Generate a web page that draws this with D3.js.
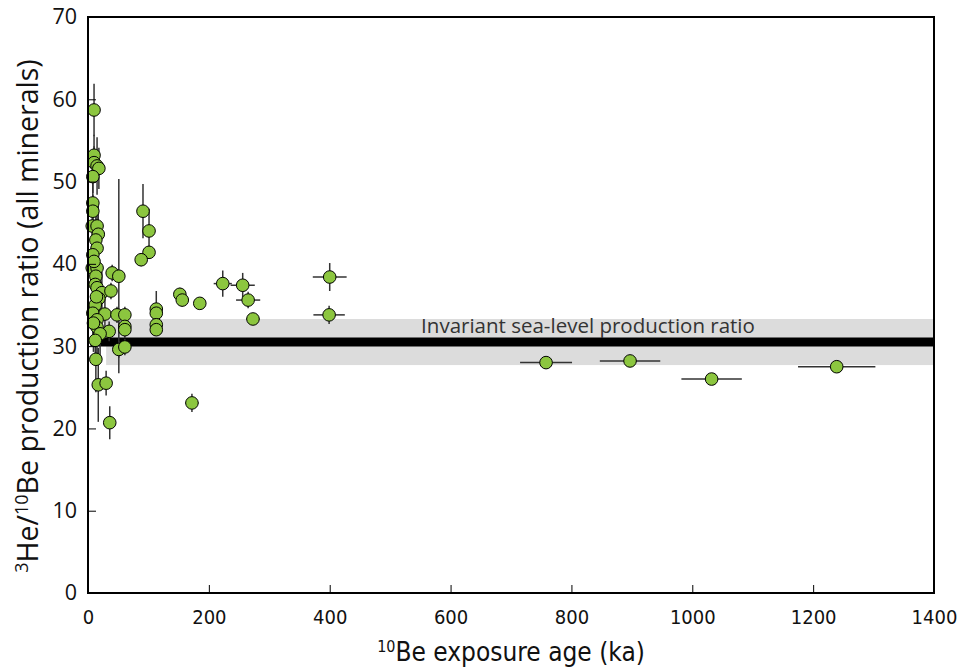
<!DOCTYPE html>
<html>
<head>
<meta charset="utf-8">
<script src="https://cdn.jsdelivr.net/npm/d3@7"></script>
<style>
  html, body { margin: 0; padding: 0; background: #fff; }
  svg { display: block; }
  text { font-family: "Open Sans", "Noto Sans", sans-serif; fill: #111; }
  .narrow { font-family: "Liberation Sans Narrow", "DejaVu Sans Condensed", "Open Sans", sans-serif; }
</style>
</head>
<body>
<svg id="chart" width="970" height="670"></svg>
<script>
// ---- data ----
const ageKa = [10,10,10,15,18,8,8,8,7,15,17,13,15,8,7,15,13,40,51,12,15,23,38,18,12,8,28,48,61,15,15,61,61,35,20,12,51,61,13,17,30,36,
  10,14,9,
  91,101,101,88,113,113,113,113,152,156,185,223,256,265,273,172,400,399,758,897,1032,1239];
const ratio = [58.7,53.2,52.3,51.9,51.6,50.6,47.4,46.4,44.6,44.6,43.6,42.9,41.9,41.1,39.5,39.5,38.5,38.9,38.5,37.5,37.1,36.5,36.7,35.8,35.0,34.0,33.9,33.8,33.8,33.2,32.3,32.4,32.0,31.8,31.5,30.7,29.6,29.9,28.4,25.3,25.5,20.7,
  40.3,36.0,32.8,
  46.4,44.0,41.4,40.5,34.5,34.0,32.6,32.0,36.3,35.6,35.2,37.6,37.4,35.6,33.3,23.1,38.4,33.8,28.0,28.2,26.0,27.5];
const ratioErr = [3.2,2.5,2.0,3.5,2.5,2.0,2.5,2.0,3.0,2.5,3.5,3.0,3.5,3.0,2.5,3.0,2.5,1.0,11.8,3.0,3.0,2.5,1.0,3.0,3.5,3.0,2.5,1.0,1.0,3.0,3.5,1.0,1.0,1.2,3.0,3.0,1.0,1.0,4.0,4.5,1.5,2.0,
  3.0,4.0,3.5,
  3.3,2.7,0.8,0.8,2.2,0.5,0.5,0.5,0.8,0.8,0.4,1.6,1.5,1.0,0.5,1.1,1.7,1.1,0.3,0.3,0.3,0.3];
const ageErr = [0,0,0,0,0,0,0,0,0,0,0,0,0,0,0,0,0,4,5,0,0,0,4,0,0,0,0,0,0,0,0,0,0,4,0,0,0,0,0,0,0,0,
  0,0,0,
  0,0,0,0,0,0,0,0,3,3,0,15,20,20,11,11,28,26,43,50,50,64];
const xTicks = [0,200,400,600,800,1000,1200,1400];
const yTicks = [0,10,20,30,40,50,60,70];
const refRatio = 30.5, refLow = 27.7, refHigh = 33.3, refStartBand = 30, refStartLine = 4;
const refLabel = "Invariant sea-level production ratio";

// ---- layout ----
const svg = d3.select("#chart");
const m = {left: 88, right: 36, top: 17, bottom: 77};
const W = 970, H = 670;
const x = d3.scaleLinear().domain([0,1400]).range([m.left, W - m.right]);
const y = d3.scaleLinear().domain([0,70]).range([H - m.bottom, m.top]);

// band and line
svg.append("rect")
  .attr("x", x(refStartBand)).attr("width", x(1400) - x(refStartBand))
  .attr("y", y(refHigh)).attr("height", y(refLow) - y(refHigh))
  .attr("fill", "#dcdcdc");
svg.append("line")
  .attr("x1", x(refStartLine)).attr("x2", x(1400))
  .attr("y1", y(refRatio)).attr("y2", y(refRatio))
  .attr("stroke", "#000").attr("stroke-width", 9);
svg.append("text")
  .attr("x", 588).attr("y", y(refRatio) - 9)
  .attr("text-anchor", "middle").attr("font-size", 20.5).style("fill", "#333")
  .text(refLabel);

// data
const pts = ageKa.map((a, i) => ({a, r: ratio[i], re: ratioErr[i], ae: ageErr[i]}));
const eb = svg.append("g").attr("stroke", "#333").attr("stroke-width", 1.5);
pts.forEach(p => {
  if (p.re > 0) eb.append("line").attr("x1", x(p.a)).attr("x2", x(p.a))
    .attr("y1", y(p.r + p.re)).attr("y2", y(p.r - p.re));
  if (p.ae > 0) eb.append("line").attr("x1", x(p.a - p.ae)).attr("x2", x(p.a + p.ae))
    .attr("y1", y(p.r)).attr("y2", y(p.r));
});
svg.append("g").selectAll("circle").data(pts).join("circle")
  .attr("cx", d => x(d.a)).attr("cy", d => y(d.r)).attr("r", 6.3)
  .attr("fill", "#8cc63f").attr("stroke", "#000").attr("stroke-width", 1);

// axes
const xAxis = d3.axisBottom(x).tickValues(xTicks).tickFormat(d3.format("d")).tickSizeInner(-8).tickSizeOuter(0).tickPadding(17);
const yAxis = d3.axisLeft(y).tickValues(yTicks).tickFormat(d3.format("d")).tickSizeInner(-8).tickSizeOuter(0).tickPadding(11);
const gx = svg.append("g").attr("transform", `translate(0,${y(0)})`).call(xAxis);
const gy = svg.append("g").attr("transform", `translate(${x(0)},0)`).call(yAxis);
[gx, gy].forEach(g => {
  g.select(".domain").remove();
  g.selectAll(".tick line").attr("stroke", "#000").attr("stroke-width", 1);
  g.selectAll(".tick text").style("fill", "#111");
});
gy.selectAll(".tick text").attr("font-size", 21.5).style("font-family", "'Open Sans', sans-serif");
gx.selectAll(".tick text").attr("font-size", 20).attr("class", "narrow")
  .style("font-family", "'Liberation Sans Narrow', 'DejaVu Sans Condensed', sans-serif");

svg.append("rect")
  .attr("x", x(0)).attr("y", y(70)).attr("width", x(1400) - x(0)).attr("height", y(0) - y(70))
  .attr("fill", "none").attr("stroke", "#000").attr("stroke-width", 2);

// titles
const xt = svg.append("text").attr("class", "narrow").attr("x", (x(0) + x(1400)) / 2).attr("y", 661)
  .attr("text-anchor", "middle").attr("font-size", 26);
xt.append("tspan").attr("font-size", 16).attr("dy", -9).text("10");
xt.append("tspan").attr("dy", 9).text("Be exposure age (ka)");

const yt = svg.append("text").attr("transform", `translate(38,316) rotate(-90)`)
  .attr("text-anchor", "middle").attr("font-size", 28.5);
yt.append("tspan").attr("font-size", 18).attr("dy", -10).text("3");
yt.append("tspan").attr("dy", 10).text("He/");
yt.append("tspan").attr("font-size", 18).attr("dy", -10).text("10");
yt.append("tspan").attr("dy", 10).text("Be production ratio (all minerals)");
</script>
</body>
</html>
